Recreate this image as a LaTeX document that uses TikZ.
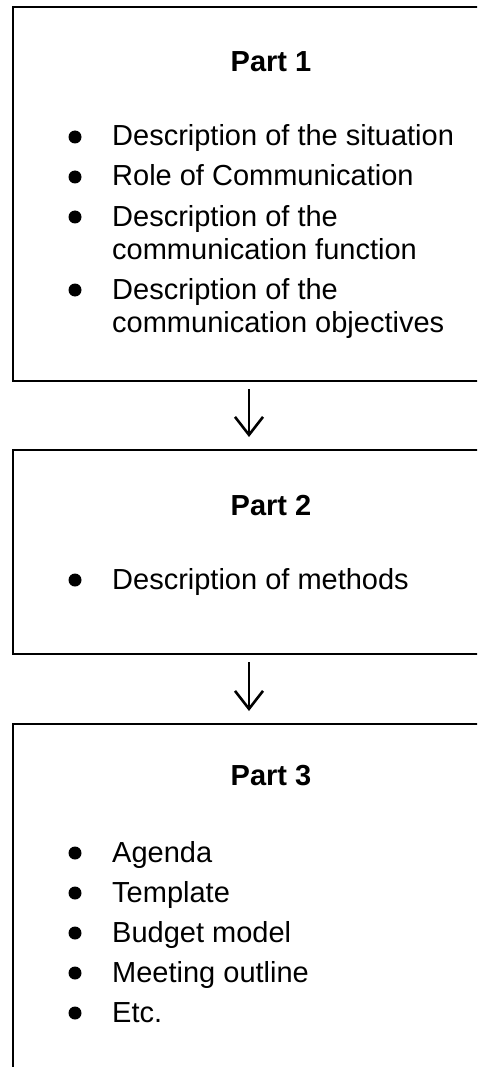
\documentclass[tikz,border=0pt]{standalone}
\usepackage{fontspec}
\setmainfont{Liberation Sans}
\usetikzlibrary{arrows.meta}
\def\partfont{\fontsize{29}{33}\selectfont}
\def\bul#1{\fill (75,#1) circle (6.5pt);}
\tikzset{
  partbox/.style={draw,line width=2pt,anchor=north west,minimum width=472pt},
  parttitle/.style={font=\partfont\bfseries,anchor=base,inner sep=0pt},
  itm/.style={font=\partfont,anchor=base west,align=left,inner sep=0pt},
  flow/.style={line width=2pt,-{Straight Barb[length=18pt,width=28pt,line width=2.6pt]},shorten <=7pt,shorten >=12pt}
}

\begin{document}
\begin{tikzpicture}[x=1pt,y=-1pt]
                \useasboundingbox (0,0) rectangle (477,1067);
                \clip (0,0) rectangle (477,1067);
                \node[partbox,minimum height=374pt] (box1) at (12,6) {};
                \node[partbox,minimum height=204pt] (box2) at (12,449) {};
                \node[partbox,minimum height=420pt] (box3) at (12,723) {};
                \draw[flow] (box1) -- (box2);
                \draw[flow] (box2) -- (box3);
                % part 1 (multi-line items sit on their last baseline)
                \node[parttitle] (p1) at (271,72) {Part 1};
                \bul{137} \node[itm] (situation) at (112,146) {Description of the situation};
                \bul{177} \node[itm] (role) at (112,186) {Role of Communication};
                \bul{217} \node[itm] (function) at (112,259) {Description of the\\communication function};
                \bul{290} \node[itm] (objectives) at (112,332) {Description of the\\communication objectives};
                % part 2
                \node[parttitle] (p2) at (271,515) {Part 2};
                \bul{580} \node[itm] (methods) at (112,589) {Description of methods};
                % part 3
                \node[parttitle] (p3) at (271,785) {Part 3};
                \bul{853} \node[itm] (agenda) at (112,862) {Agenda};
                \bul{893} \node[itm] (template) at (112,902) {Template};
                \bul{933} \node[itm] (budget) at (112,942) {Budget model};
                \bul{973} \node[itm] (meeting) at (112,982) {Meeting outline};
                \bul{1013} \node[itm] (etc) at (112,1022) {Etc.};
            \end{tikzpicture}
\end{document}
